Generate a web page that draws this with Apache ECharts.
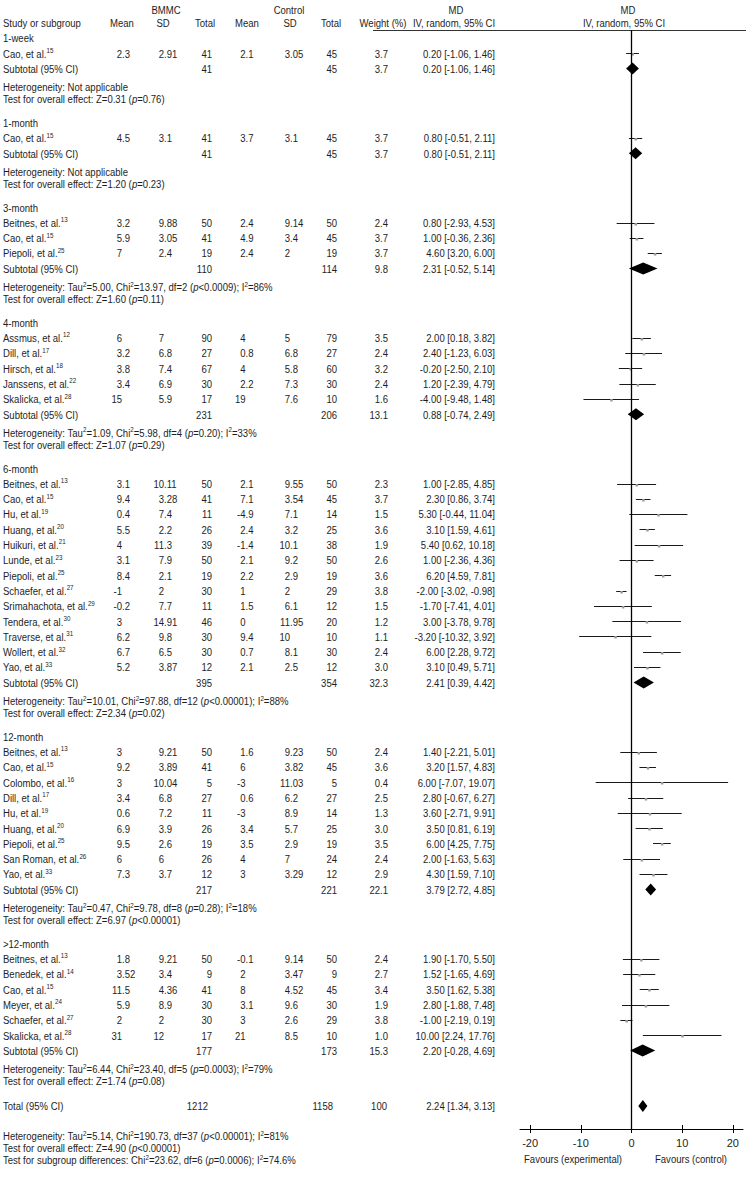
<!DOCTYPE html>
<html><head><meta charset="utf-8">
<script src="https://cdn.jsdelivr.net/npm/echarts@6/dist/echarts.min.js"></script>
<style>html,body{margin:0;padding:0;background:#fff}#c{width:746px;height:1179px}</style>
</head><body><div id="c"></div>
<script>
// ---------------- DATA ----------------
const groupNames = ['1-week', '1-month', '3-month', '4-month', '6-month', '12-month', '>12-month'];

const studyNames = ['Cao', 'Cao',
  'Beitnes', 'Cao', 'Piepoli',
  'Assmus', 'Dill', 'Hirsch', 'Janssens', 'Skalicka',
  'Beitnes', 'Cao', 'Hu', 'Huang', 'Huikuri', 'Lunde', 'Piepoli', 'Schaefer', 'Srimahachota', 'Tendera', 'Traverse', 'Wollert', 'Yao',
  'Beitnes', 'Cao', 'Colombo', 'Dill', 'Hu', 'Huang', 'Piepoli', 'San Roman', 'Yao',
  'Beitnes', 'Benedek', 'Cao', 'Meyer', 'Schaefer', 'Skalicka'];
const studyRefs = [15, 15,
  13, 15, 25,
  12, 17, 18, 22, 28,
  13, 15, 19, 20, 21, 23, 25, 27, 29, 30, 31, 32, 33,
  13, 15, 16, 17, 19, 20, 25, 26, 33,
  13, 14, 15, 24, 27, 28];
const studyGroup = [0, 1, 2, 2, 2, 3, 3, 3, 3, 3,
  4, 4, 4, 4, 4, 4, 4, 4, 4, 4, 4, 4, 4,
  5, 5, 5, 5, 5, 5, 5, 5, 5,
  6, 6, 6, 6, 6, 6];

const bmMean = ['2.3', '4.5', '3.2', '5.9', '7', '6', '3.2', '3.8', '3.4', '15',
  '3.1', '9.4', '0.4', '5.5', '4', '3.1', '8.4', '-1', '-0.2', '3', '6.2', '6.7', '5.2',
  '3', '9.2', '3', '3.4', '0.6', '6.9', '9.5', '6', '7.3',
  '1.8', '3.52', '11.5', '5.9', '2', '31'];
const bmSD = ['2.91', '3.1', '9.88', '3.05', '2.4', '7', '6.8', '7.4', '6.9', '5.9',
  '10.11', '3.28', '7.4', '2.2', '11.3', '7.9', '2.1', '2', '7.7', '14.91', '9.8', '6.5', '3.87',
  '9.21', '3.89', '10.04', '6.8', '7.2', '3.9', '2.6', '6', '3.7',
  '9.21', '3.4', '4.36', '8.9', '2', '12'];
const bmN = [41, 41, 50, 41, 19, 90, 27, 67, 30, 17,
  50, 41, 11, 26, 39, 50, 19, 30, 11, 46, 30, 30, 12,
  50, 41, 5, 27, 11, 26, 19, 26, 12,
  50, 9, 41, 30, 30, 17];
const ctMean = ['2.1', '3.7', '2.4', '4.9', '2.4', '4', '0.8', '4', '2.2', '19',
  '2.1', '7.1', '-4.9', '2.4', '-1.4', '2.1', '2.2', '1', '1.5', '0', '9.4', '0.7', '2.1',
  '1.6', '6', '-3', '0.6', '-3', '3.4', '3.5', '4', '3',
  '-0.1', '2', '8', '3.1', '3', '21'];
const ctSD = ['3.05', '3.1', '9.14', '3.4', '2', '5', '6.8', '5.8', '7.3', '7.6',
  '9.55', '3.54', '7.1', '3.2', '10.1', '9.2', '2.9', '2', '6.1', '11.95', '10', '8.1', '2.5',
  '9.23', '3.82', '11.03', '6.2', '8.9', '5.7', '2.9', '7', '3.29',
  '9.14', '3.47', '4.52', '9.6', '2.6', '8.5'];
const ctN = [45, 45, 50, 45, 19, 79, 27, 60, 30, 10,
  50, 45, 14, 25, 38, 50, 19, 29, 12, 20, 10, 30, 12,
  50, 45, 5, 27, 14, 25, 19, 24, 12,
  50, 9, 45, 30, 29, 10];
const weight = [3.7, 3.7, 2.4, 3.7, 3.7, 3.5, 2.4, 3.2, 2.4, 1.6,
  2.3, 3.7, 1.5, 3.6, 1.9, 2.6, 3.6, 3.8, 1.5, 1.2, 1.1, 2.4, 3.0,
  2.4, 3.6, 0.4, 2.5, 1.3, 3.0, 3.5, 2.4, 2.9,
  2.4, 2.7, 3.4, 1.9, 3.8, 1.0];
const md = [0.20, 0.80, 0.80, 1.00, 4.60, 2.00, 2.40, -0.20, 1.20, -4.00,
  1.00, 2.30, 5.30, 3.10, 5.40, 1.00, 6.20, -2.00, -1.70, 3.00, -3.20, 6.00, 3.10,
  1.40, 3.20, 6.00, 2.80, 3.60, 3.50, 6.00, 2.00, 4.30,
  1.90, 1.52, 3.50, 2.80, -1.00, 10.00];
const ciLow = [-1.06, -0.51, -2.93, -0.36, 3.20, 0.18, -1.23, -2.50, -2.39, -9.48,
  -2.85, 0.86, -0.44, 1.59, 0.62, -2.36, 4.59, -3.02, -7.41, -3.78, -10.32, 2.28, 0.49,
  -2.21, 1.57, -7.07, -0.67, -2.71, 0.81, 4.25, -1.63, 1.59,
  -1.70, -1.65, 1.62, -1.88, -2.19, 2.24];
const ciHigh = [1.46, 2.11, 4.53, 2.36, 6.00, 3.82, 6.03, 2.10, 4.79, 1.48,
  4.85, 3.74, 11.04, 4.61, 10.18, 4.36, 7.81, -0.98, 4.01, 9.78, 3.92, 9.72, 5.71,
  5.01, 4.83, 19.07, 6.27, 9.91, 6.19, 7.75, 5.63, 7.10,
  5.50, 4.69, 5.38, 7.48, 0.19, 17.76];

// subgroup totals
const subBmN = [41, 41, 110, 231, 395, 217, 177];
const subCtN = [45, 45, 114, 206, 354, 221, 173];
const subWeight = [3.7, 3.7, 9.8, 13.1, 32.3, 22.1, 15.3];
const subMD = [0.20, 0.80, 2.31, 0.88, 2.41, 3.79, 2.20];
const subLow = [-1.06, -0.51, -0.52, -0.74, 0.39, 2.72, -0.28];
const subHigh = [1.46, 2.11, 5.14, 2.49, 4.42, 4.85, 4.69];
const hetTau = [null, null, '5.00', '1.09', '10.01', '0.47', '6.44'];
const hetChi = [null, null, '13.97', '5.98', '97.88', '9.78', '23.40'];
const hetDf = [null, null, 2, 4, 12, 8, 5];
const hetP = [null, null, '<0.0009', '=0.20', '<0.00001', '=0.28', '=0.0003'];
const hetI2 = [null, null, '86%', '33%', '88%', '18%', '79%'];
const testZ = ['0.31', '1.20', '1.60', '1.07', '2.34', '6.97', '1.74'];
const testP = ['=0.76', '=0.23', '=0.11', '=0.29', '=0.02', '<0.00001', '=0.08'];

// overall
const totalBmN = 1212, totalCtN = 1158, totalWeight = '100';
const totalMD = 2.24, totalLow = 1.34, totalHigh = 3.13;
const totalHet = { tau: '5.14', chi: '190.73', df: 37, p: '<0.00001', i2: '81%' };
const totalTest = { z: '4.90', p: '<0.00001' };
const subgroupDiff = { chi: '23.62', df: 6, p: '=0.0006', i2: '74.6%' };

const xTicks = [-20, -10, 0, 10, 20];

// ---------------- LAYOUT ----------------
const FF = '"Liberation Sans", Arial, sans-serif';
const TXT = '#1e1e1e';
const FS = 11.5;
const SX = 0.83;              // horizontal condensing (narrow face)
const S = 15.3, G1 = 18.5, S2 = 12, G2 = 23.5, GT = 25, G3 = 30;

const rows = [];
let yy = 38;
groupNames.forEach((gn, g) => {
  rows.push({ type: 'label', g, y: yy }); yy += S;
  studyGroup.forEach((sg, i) => { if (sg === g) { rows.push({ type: 'study', i, y: yy }); yy += S; } });
  rows.push({ type: 'sub', g, y: yy }); yy += G1;
  rows.push({ type: 'het', g, y: yy }); yy += S2;
  rows.push({ type: 'test', g, y: yy }); yy += (g === groupNames.length - 1 ? GT : G2);
});
rows.push({ type: 'total', y: yy }); yy += G3;
rows.push({ type: 'fhet', y: yy }); yy += S2;
rows.push({ type: 'ftest', y: yy }); yy += S2;
rows.push({ type: 'fsub', y: yy });

const rich = {
  s: { fontSize: 7.5, fontFamily: FF, lineHeight: 7, verticalAlign: 'top', fill: TXT },
  i: { fontSize: FS, fontFamily: FF, fontStyle: 'italic', lineHeight: 14, fill: TXT }
};
function T(text, x, y, align) {
  return { type: 'text', x, y, scaleX: SX, scaleY: 1,
    style: { text: String(text), x: 0, y: 0, align: align || 'left', verticalAlign: 'middle',
      fill: TXT, fontSize: FS, fontFamily: FF, lineHeight: 14, rich } };
}
function dec(str, x, y) {
  const p = String(str).split('.');
  const out = [T(p[0], x, y, 'right')];
  if (p.length > 1) out.push(T('.' + p[1], x, y, 'left'));
  return out;
}
const f2 = v => v.toFixed(2);
const mdText = (m, l, h) => `${f2(m)} [${f2(l)}, ${f2(h)}]`;
const hetStr = (tau, chi, df, p, i2) => `Heterogeneity: Tau{s|2}=${tau}, Chi{s|2}=${chi}, df=${df} ({i|p}${p}); I{s|2}=${i2}`;

function tableItem(params, api) {
  const r = rows[params.dataIndex];
  const y = api.coord([0, r.y])[1];
  let ch = [];
  if (r.type === 'label') ch.push(T(groupNames[r.g], 3, y));
  else if (r.type === 'study') {
    const i = r.i;
    ch.push(T(`${studyNames[i]}, et al.{s|${studyRefs[i]}}`, 3, y));
    ch = ch.concat(dec(bmMean[i], 122, y), dec(bmSD[i], 164, y));
    ch.push(T(bmN[i], 212, y, 'right'));
    ch = ch.concat(dec(ctMean[i], 245.5, y), dec(ctSD[i], 290, y));
    ch.push(T(ctN[i], 337, y, 'right'));
    ch.push(T(weight[i].toFixed(1), 388, y, 'right'));
    ch.push(T(mdText(md[i], ciLow[i], ciHigh[i]), 495, y, 'right'));
  } else if (r.type === 'sub') {
    const g = r.g;
    ch.push(T('Subtotal (95% CI)', 3, y));
    ch.push(T(subBmN[g], 212, y, 'right'));
    ch.push(T(subCtN[g], 337, y, 'right'));
    ch.push(T(subWeight[g].toFixed(1), 388, y, 'right'));
    ch.push(T(mdText(subMD[g], subLow[g], subHigh[g]), 495, y, 'right'));
  } else if (r.type === 'het') {
    const g = r.g;
    ch.push(T(hetTau[g] === null ? 'Heterogeneity: Not applicable'
      : hetStr(hetTau[g], hetChi[g], hetDf[g], hetP[g], hetI2[g]), 3, y));
  } else if (r.type === 'test') {
    ch.push(T(`Test for overall effect: Z=${testZ[r.g]} ({i|p}${testP[r.g]})`, 3, y));
  } else if (r.type === 'total') {
    ch.push(T('Total (95% CI)', 3, y));
    ch.push(T(totalBmN, 208, y, 'right'));
    ch.push(T(totalCtN, 333, y, 'right'));
    ch.push(T(totalWeight, 387, y, 'right'));
    ch.push(T(mdText(totalMD, totalLow, totalHigh), 495, y, 'right'));
  } else if (r.type === 'fhet') {
    ch.push(T(hetStr(totalHet.tau, totalHet.chi, totalHet.df, totalHet.p, totalHet.i2), 3, y));
  } else if (r.type === 'ftest') {
    ch.push(T(`Test for overall effect: Z=${totalTest.z} ({i|p}${totalTest.p})`, 3, y));
  } else if (r.type === 'fsub') {
    ch.push(T(`Test for subgroup differences: Chi{s|2}=${subgroupDiff.chi}, df=${subgroupDiff.df} ({i|p}${subgroupDiff.p}); I{s|2}=${subgroupDiff.i2}`, 3, y));
  }
  return { type: 'group', children: ch };
}

// plot data
const studyRowY = rows.filter(r => r.type === 'study').map(r => r.y);
const ciData = studyNames.map((n, i) => [ciLow[i], ciHigh[i], studyRowY[i], md[i]]);
const subRowY = rows.filter(r => r.type === 'sub').map(r => r.y);
const totalRowY = rows.find(r => r.type === 'total').y;
const diamondData = groupNames.map((g, k) => [subLow[k], subHigh[k], subRowY[k], subMD[k]])
  .concat([[totalLow, totalHigh, totalRowY, totalMD]]);

function ciItem(params, api) {
  const yv = api.value(2);
  const a = api.coord([api.value(0), yv]), b = api.coord([api.value(1), yv]), m = api.coord([api.value(3), yv]);
  const py = Math.round(a[1]) + 0.5;
  return { type: 'group', children: [
    { type: 'line', shape: { x1: a[0], y1: py, x2: b[0], y2: py }, style: { stroke: '#1a1a1a', lineWidth: 1 } },
    { type: 'rect', shape: { x: m[0] - 1, y: py - 0.5, width: 2.5, height: 2.5 }, style: { fill: '#9a9a9a' } }
  ] };
}
function diamondItem(params, api) {
  const yv = api.value(2);
  const a = api.coord([api.value(0), yv]), b = api.coord([api.value(1), yv]), m = api.coord([api.value(3), yv]);
  const h = 6;
  return { type: 'polygon', shape: { points: [[a[0], a[1]], [m[0], m[1] - h], [b[0], b[1]], [m[0], m[1] + h]] },
    style: { fill: '#000' } };
}

const headerTexts = [
  ['BMMC', 166, 10, 'center'], ['Control', 289, 10, 'center'], ['MD', 456, 10, 'center'], ['MD', 628, 10, 'center'],
  ['Study or subgroup', 3, 23, 'left'], ['Mean', 122, 23, 'center'], ['SD', 163, 23, 'center'], ['Total', 205, 23, 'center'],
  ['Mean', 247, 23, 'center'], ['SD', 290, 23, 'center'], ['Total', 331, 23, 'center'], ['Weight (%)', 383, 23, 'center'],
  ['IV, random, 95% CI', 454, 23, 'center'], ['IV, random, 95% CI', 624, 23, 'center'],
  ['Favours (experimental)', 573, 1158.5, 'center'], ['Favours (control)', 691, 1158.5, 'center']
];

const chart = echarts.init(document.getElementById('c'), null, { renderer: 'svg' });
chart.setOption({
  animation: false,
  backgroundColor: '#fff',
  grid: { left: 520, right: 3, top: 30, bottom: 50 },
  xAxis: [{
    type: 'value', min: -22, max: 22,
    axisLine: { lineStyle: { color: '#000', width: 1 } },
    axisTick: { customValues: xTicks, inside: true, length: 4, lineStyle: { color: '#000' } },
    axisLabel: { customValues: xTicks, color: TXT, fontSize: 11, fontFamily: FF, margin: 8 },
    splitLine: { show: false }
  }, {
    type: 'value', min: -22, max: 22, position: 'bottom',
    axisLine: { show: false },
    axisTick: { customValues: xTicks, inside: false, length: 4, lineStyle: { color: '#000' } },
    axisLabel: { show: false }, splitLine: { show: false }
  }],
  yAxis: { type: 'value', min: 30, max: 1129, inverse: true, show: false },
  graphic: [
    { type: 'line', shape: { x1: 373, y1: 30.5, x2: 746, y2: 30.5 }, style: { stroke: '#333', lineWidth: 1 } }
  ].concat(headerTexts.map(h => ({ type: 'text', x: h[1], y: h[2], scaleX: SX,
    style: { text: h[0], x: 0, y: 0, align: h[3], verticalAlign: 'middle', fill: TXT, fontSize: FS, fontFamily: FF } }))),
  series: [
    { type: 'custom', name: 'table', coordinateSystem: 'cartesian2d', renderItem: tableItem,
      data: rows.map(r => [0, r.y]), clip: false, silent: true },
    { type: 'custom', name: 'ci', renderItem: ciItem, data: ciData, encode: { x: [0, 1, 3], y: 2 }, clip: false, silent: true,
      markLine: { silent: true, symbol: 'none', label: { show: false },
        lineStyle: { color: '#000', width: 1.3, type: 'solid' }, data: [{ xAxis: 0 }] } },
    { type: 'custom', name: 'diamond', renderItem: diamondItem, data: diamondData, encode: { x: [0, 1, 3], y: 2 }, clip: false, silent: true }
  ]
});
</script>
</body></html>
